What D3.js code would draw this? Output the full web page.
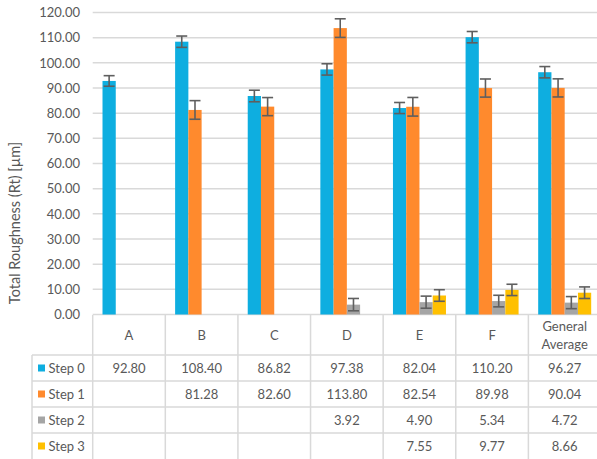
<!DOCTYPE html>
<html>
<head>
<meta charset="utf-8">
<script src="https://cdn.jsdelivr.net/npm/d3@7"></script>
<style>
  body { margin: 0; background: #fff; }
  svg { display: block; font-family: Lato, "Open Sans", sans-serif; }
</style>
</head>
<body>
<script>
// chart values
var categories = ["A", "B", "C", "D", "E", "F", "General Average"];
var seriesNames = ["Step 0", "Step 1", "Step 2", "Step 3"];
var seriesColors = ["#0EAEE0", "#FF8A2D", "#A5A5A5", "#FFC000"];
var step0 = [92.80, 108.40, 86.82, 97.38, 82.04, 110.20, 96.27];
var step1 = [null, 81.28, 82.60, 113.80, 82.54, 89.98, 90.04];
var step2 = [null, null, null, 3.92, 4.90, 5.34, 4.72];
var step3 = [null, null, null, null, 7.55, 9.77, 8.66];
var err0 = [2.1, 2.25, 2.3, 2.25, 2.2, 2.25, 2.25];
var err1 = [null, 3.7, 3.6, 3.7, 3.7, 3.6, 3.6];
var err2 = [null, null, null, 2.45, 2.4, 2.3, 2.4];
var err3 = [null, null, null, null, 2.3, 2.25, 2.3];
var yTicks = [0, 10, 20, 30, 40, 50, 60, 70, 80, 90, 100, 110, 120];

var values = [step0, step1, step2, step3];
var errs = [err0, err1, err2, err3];

var W = 597, H = 459;
var txt = "#595959", grid = "#D9D9D9";

var svg = d3.select("body").append("svg").attr("width", W).attr("height", H);

var x = d3.scaleBand().domain(categories).range([92.7, 601]);
var bw = x.bandwidth();
var gap = bw * 0.135;
var x1 = d3.scaleBand().domain(seriesNames).range([gap, bw - gap]);
var y = d3.scaleLinear().domain([0, 120]).range([314.5, 12.5]);

// gridlines
svg.append("g").selectAll("line").data(yTicks).enter().append("line")
  .attr("x1", 92.7).attr("x2", W)
  .attr("y1", function(d) { return y(d); }).attr("y2", function(d) { return y(d); })
  .attr("stroke", grid).attr("stroke-width", 1.5);

// y axis labels
var yAxis = d3.axisLeft(y).tickValues(yTicks).tickFormat(d3.format(".2f")).tickSize(0).tickPadding(0);
var ga = svg.append("g").attr("transform", "translate(80,0)").call(yAxis);
ga.select(".domain").remove();
ga.selectAll("text").attr("fill", txt).style("font-size", "13px").style("font-family", "Lato, 'Open Sans', sans-serif");

// y title
svg.append("text")
  .attr("transform", "translate(16,223) rotate(-90)")
  .attr("text-anchor", "middle").attr("dominant-baseline", "middle")
  .attr("fill", txt).style("font-size", "14.5px")
  .text("Total Roughness (Rt) [\u00b5m]");

// bars
seriesNames.forEach(function(s, si) {
  var g = svg.append("g");
  var rows = categories.map(function(c, i) { return { c: c, v: values[si][i], e: errs[si][i] }; })
    .filter(function(d) { return d.v != null; });
  g.selectAll("rect").data(rows).enter().append("rect")
    .attr("x", function(d) { return x(d.c) + x1(s); })
    .attr("width", x1.bandwidth())
    .attr("y", function(d) { return y(d.v); })
    .attr("height", function(d) { return y(0) - y(d.v); })
    .attr("fill", seriesColors[si]);
  // error bars
  var eg = g.selectAll("g.err").data(rows).enter().append("g").attr("class", "err")
    .attr("stroke", "#5F5F5F").attr("stroke-width", 1.6);
  eg.append("line")
    .attr("x1", function(d) { return x(d.c) + x1(s) + x1.bandwidth() / 2; })
    .attr("x2", function(d) { return x(d.c) + x1(s) + x1.bandwidth() / 2; })
    .attr("y1", function(d) { return y(d.v + d.e); })
    .attr("y2", function(d) { return y(d.v - d.e); });
  [1, -1].forEach(function(sign) {
    eg.append("line")
      .attr("x1", function(d) { return x(d.c) + x1(s) + x1.bandwidth() / 2 - 5.5; })
      .attr("x2", function(d) { return x(d.c) + x1(s) + x1.bandwidth() / 2 + 5.5; })
      .attr("y1", function(d) { return y(d.v + sign * d.e); })
      .attr("y2", function(d) { return y(d.v + sign * d.e); });
  });
});

// data table
var tTop = 315, hdrBottom = 355, rowH = 26, legLeft = 32;
var tb = svg.append("g");
var bounds = categories.map(function(c) { return x(c); }).concat([x.range()[1]]);
bounds.forEach(function(bx) {
  tb.append("line").attr("x1", bx).attr("x2", bx).attr("y1", tTop).attr("y2", H)
    .attr("stroke", grid).attr("stroke-width", 1.5);
});
tb.append("line").attr("x1", legLeft).attr("x2", legLeft).attr("y1", hdrBottom).attr("y2", H)
  .attr("stroke", grid).attr("stroke-width", 1.5);
seriesNames.forEach(function(s, si) {
  tb.append("line").attr("x1", legLeft).attr("x2", W)
    .attr("y1", hdrBottom + si * rowH).attr("y2", hdrBottom + si * rowH)
    .attr("stroke", grid).attr("stroke-width", 1.5);
});

// header labels
categories.forEach(function(c) {
  var cx = x(c) + bw / 2;
  var parts = c == "General Average" ? ["General", "Average"] : [c];
  parts.forEach(function(p, pi) {
    tb.append("text").attr("x", cx)
      .attr("y", (tTop + hdrBottom) / 2 + (pi - (parts.length - 1) / 2) * 18)
      .attr("text-anchor", "middle").attr("dominant-baseline", "central")
      .attr("fill", txt).style("font-size", "13px").text(p);
  });
});

// rows
seriesNames.forEach(function(s, si) {
  var cy = hdrBottom + si * rowH + rowH / 2;
  tb.append("rect").attr("x", 38).attr("y", cy - 3.5).attr("width", 7).attr("height", 7)
    .attr("fill", seriesColors[si]);
  tb.append("text").attr("x", 48.5).attr("y", cy)
    .attr("dominant-baseline", "central").attr("fill", txt).style("font-size", "13px").text(s);
  categories.forEach(function(c, i) {
    var v = values[si][i];
    if (v == null) return;
    tb.append("text").attr("x", x(c) + bw / 2).attr("y", cy)
      .attr("text-anchor", "middle").attr("dominant-baseline", "central")
      .attr("fill", txt).style("font-size", "13px").text(v.toFixed(2));
  });
});
</script>
</body>
</html>
